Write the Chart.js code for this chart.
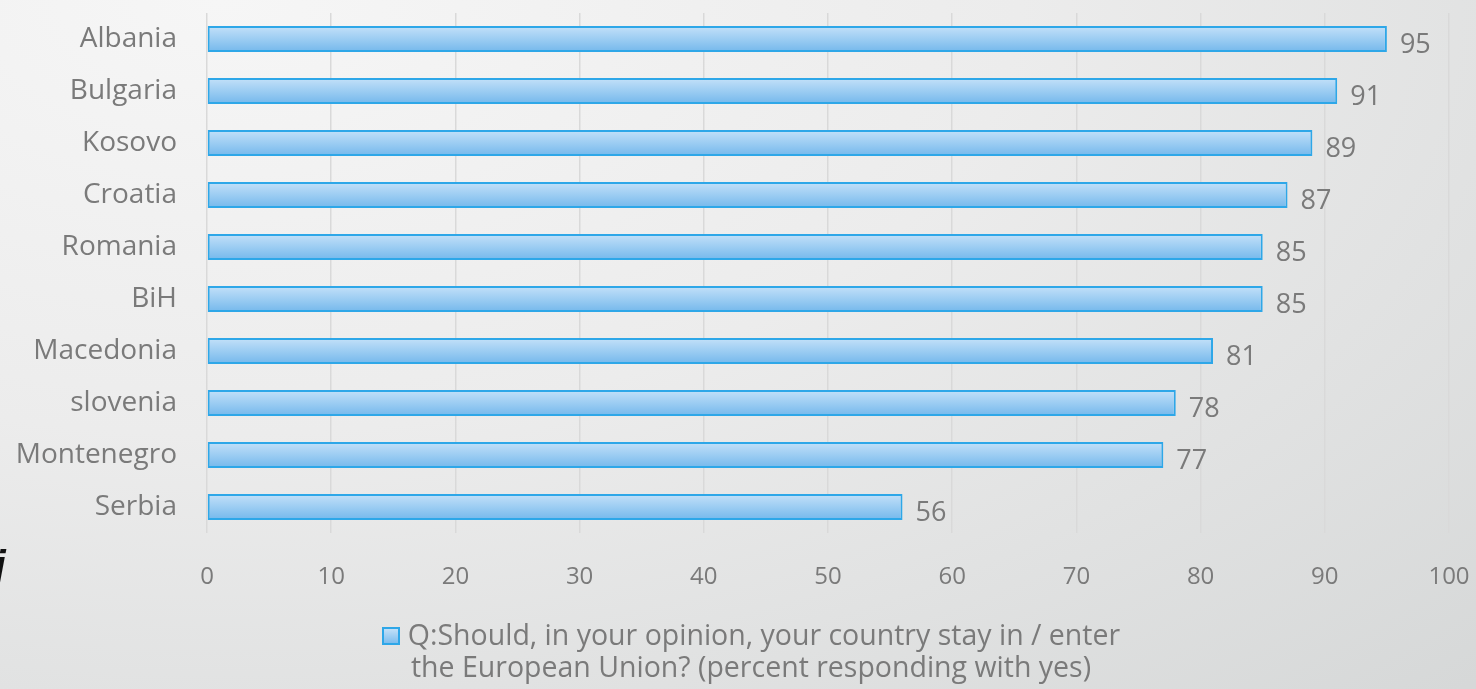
<!DOCTYPE html>
<html>
<head>
<meta charset="utf-8">
<script src="https://cdn.jsdelivr.net/npm/chart.js@4/dist/chart.umd.min.js"></script>
<style>
  html, body { margin: 0; padding: 0; overflow: hidden; }
  body {
    width: 1476px; height: 689px; position: relative;
    background: radial-gradient(ellipse 120% 140% at 15% 0%, #f6f6f6 0%, #ececec 45%, #d6d8d8 100%);
    font-family: "Open Sans", sans-serif;
  }
  #chart { position: absolute; left: 0; top: 0; }
  #legend {
    position: absolute; left: 301px; top: 618px; width: 900px;
    text-align: center; color: #7a7a7a; font-size: 28.5px; line-height: 32px;
  }
  #legend .box {
    display: inline-block; width: 14px; height: 14px; margin-right: 8px;
    border: 2px solid #2ea7e8; vertical-align: 0px;
    background: linear-gradient(#c2e0f8, #7dbdee);
  }
  #stray {
    position: absolute; left: -6px; top: 542px; font-size: 42px;
    font-style: italic; font-weight: bold; color: #111;
    font-family: "Liberation Sans", sans-serif;
  }
</style>
</head>
<body>
<canvas id="chart" width="1476" height="689"></canvas>
<div id="legend"><span class="box"></span>Q:Should, in your opinion, your country stay in / enter<br>the European Union? (percent responding with yes)</div>
<div id="stray">j</div>
<script>
// data
const countries = ["Albania", "Bulgaria", "Kosovo", "Croatia", "Romania", "BiH", "Macedonia", "slovenia", "Montenegro", "Serbia"];
const yesPercent = [95, 91, 89, 87, 85, 85, 81, 78, 77, 56];
const seriesName = "Q:Should, in your opinion, your country stay in / enter the European Union? (percent responding with yes)";

const textGrey = '#7a7a7a';

// vertical gradient for each bar, built from the y scale
function barFill(ctx) {
    const chart = ctx.chart;
    const area = chart.chartArea;
    const y = chart.scales.y;
    if (!area || !y || ctx.dataIndex === undefined) return '#9ccbf2';
    const mid = y.getPixelForValue(ctx.dataIndex);
    const half = (area.bottom - area.top) / countries.length / 4;
    const g = chart.ctx.createLinearGradient(0, mid - half, 0, mid + half);
    g.addColorStop(0, '#c4e1f9');
    g.addColorStop(1, '#74b8ec');
    return g;
}

// value labels right of the bars
const valueLabels = {
    id: 'valueLabels',
    afterDatasetsDraw(chart) {
        const c = chart.ctx;
        const meta = chart.getDatasetMeta(0);
        c.save();
        c.font = '27px "Open Sans", sans-serif';
        c.fillStyle = textGrey;
        c.textAlign = 'left';
        c.textBaseline = 'middle';
        meta.data.forEach(function(bar, i) {
            c.fillText(yesPercent[i], bar.x + 13, bar.y + 6);
        });
        c.restore();
    }
};

var ctx = document.getElementById('chart');
var chart = new Chart(ctx, {
    type: 'bar',
    data: {
        labels: countries,
        datasets: [{
            label: seriesName,
            data: yesPercent,
            backgroundColor: barFill,
            borderColor: '#2ea7e8',
            borderWidth: 2,
            borderSkipped: false,
            categoryPercentage: 1,
            barPercentage: 0.5
        }]
    },
    options: {
        indexAxis: 'y',
        responsive: false,
        animation: false,
        layout: { padding: { top: 13, right: 27, left: 0, bottom: 96 } },
        plugins: {
            legend: { display: false },
            tooltip: { enabled: false }
        },
        scales: {
            x: {
                min: 0, max: 100,
                ticks: { stepSize: 10, color: textGrey, font: { size: 24, family: '"Open Sans", sans-serif' }, padding: 30 },
                grid: { color: '#d9d9d9', lineWidth: 1.5, drawTicks: false },
                border: { display: false },
                afterFit: function(s) { s.height = 60; s.paddingLeft = 0; s.paddingRight = 0; }
            },
            y: {
                ticks: { color: textGrey, font: { size: 28, family: '"Open Sans", sans-serif' }, padding: 30 },
                grid: { display: false, drawTicks: false },
                border: { display: false },
                afterFit: function(s) { s.width = 207; s.paddingTop = 0; s.paddingBottom = 0; }
            }
        }
    },
    plugins: [valueLabels]
});
</script>
</body>
</html>
